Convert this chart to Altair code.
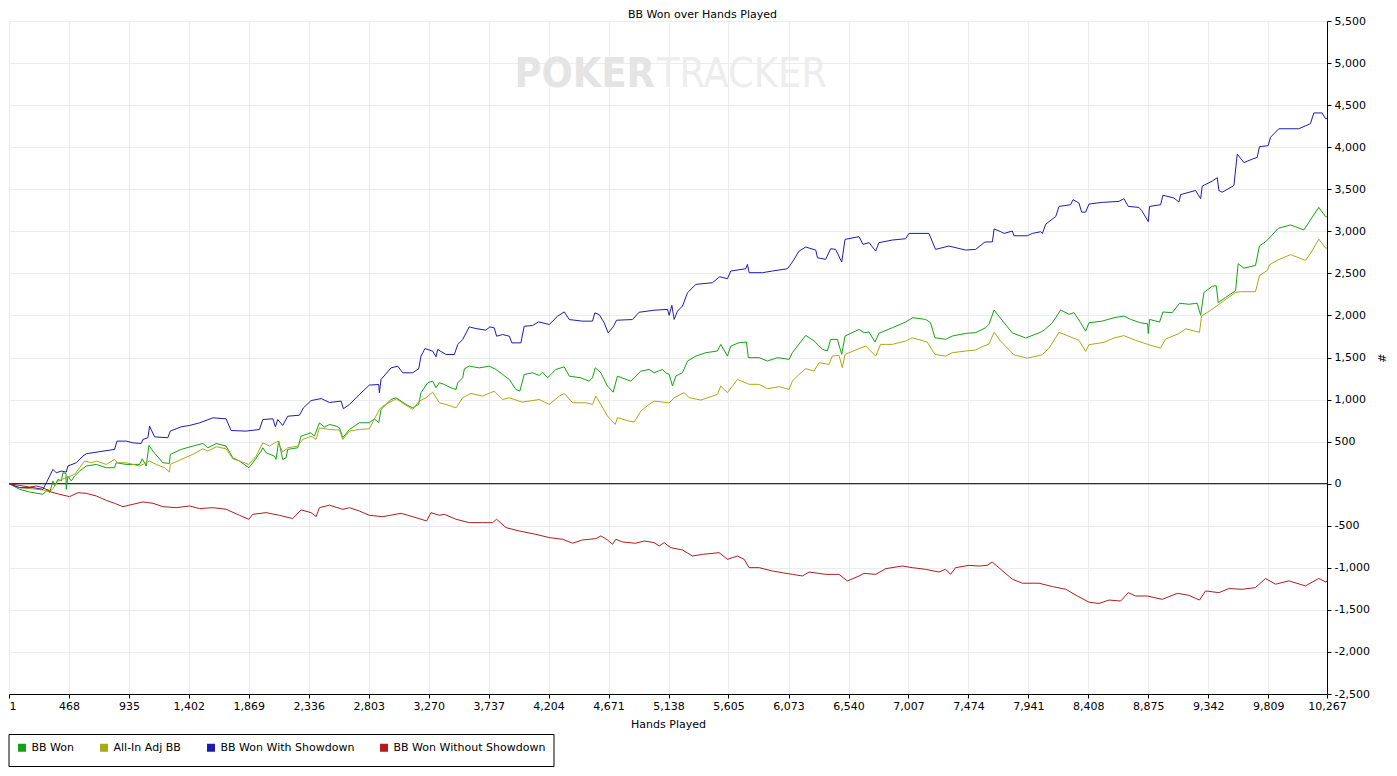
import altair as alt
import pandas as pd

SERIES = ["BB Won", "All-In Adj BB", "BB Won With Showdown", "BB Won Without Showdown"]
LINE_COLORS = ["#14a214", "#aaaa14", "#1c1cb0", "#b21c1c"]

X_TICKS = [1, 468, 935, 1402, 1869, 2336, 2803, 3270, 3737, 4204, 4671, 5138,
           5605, 6073, 6540, 7007, 7474, 7941, 8408, 8875, 9342, 9809, 10267]
Y_TICKS = [-2500, -2000, -1500, -1000, -500, 0, 500, 1000, 1500, 2000, 2500,
           3000, 3500, 4000, 4500, 5000, 5500]

TITLE = "BB Won over Hands Played"
X_TITLE = "Hands Played"
Y_TITLE = "#"

# BB Won
BBW_H = [1, 84, 162, 266, 305, 318, 343, 356, 382, 408, 421, 445, 447, 460, 486, 512, 551, 603, 681, 759,
         823, 836, 914, 1018, 1039, 1070, 1091, 1122, 1199, 1251, 1257, 1342, 1433, 1511, 1550, 1615, 1692,
         1744, 1796, 1869, 1900, 1965, 1978, 2004, 2068, 2081, 2102, 2133, 2159, 2172, 2250, 2276, 2315,
         2354, 2380, 2419, 2458, 2497, 2549, 2575, 2601, 2653, 2730, 2808, 2847, 2881, 2899, 2977, 3016,
         3094, 3145, 3192, 3210, 3262, 3301, 3327, 3353, 3392, 3444, 3483, 3496, 3535, 3548, 3586, 3664,
         3742, 3794, 3846, 3898, 3949, 3980, 4014, 4079, 4131, 4157, 4196, 4261, 4326, 4365, 4455, 4520,
         4546, 4567, 4611, 4663, 4707, 4740, 4844, 4870, 4922, 4987, 5026, 5091, 5117, 5143, 5169, 5195,
         5247, 5286, 5351, 5428, 5519, 5545, 5597, 5623, 5688, 5745, 5760, 5844, 5908, 5986, 6077, 6103,
         6142, 6207, 6272, 6337, 6375, 6401, 6453, 6487, 6513, 6622, 6661, 6700, 6746, 6777, 6881, 6985,
         7042, 7140, 7179, 7213, 7296, 7348, 7452, 7530, 7608, 7634, 7674, 7700, 7752, 7816, 7920, 8037,
         8063, 8128, 8193, 8257, 8296, 8348, 8387, 8413, 8517, 8608, 8685, 8737, 8815, 8870, 8875, 8885,
         8963, 8989, 9062, 9119, 9191, 9256, 9283, 9308, 9373, 9404, 9420, 9477, 9555, 9575, 9620, 9710,
         9741, 9788, 9827, 9887, 9983, 10087, 10138, 10203, 10255, 10267]
BBW_V = [0, -67, -99, -126, -67, -107, 32, -28, 51, 32, 130, 120, -67, 91, 32, 91, 150, 210, 229, 190,
         190, 249, 229, 229, 296, 210, 455, 387, 249, 241, 348, 407, 447, 478, 427, 478, 447,
         308, 269, 190, 249, 387, 427, 368, 328, 289, 506, 289, 308, 407, 427, 565, 585,
         605, 565, 723, 672, 704, 685, 665, 546, 645, 724, 724, 772, 724, 883, 1001, 1021,
         942, 902, 942, 1081, 1199, 1219, 1140, 1199, 1179, 1140, 1120, 1199, 1259, 1366, 1397, 1377,
         1397, 1358, 1298, 1239, 1120, 1100, 1298, 1318, 1286, 1326, 1259, 1358, 1389, 1278, 1259, 1219,
         1259, 1377, 1318, 1160, 1088, 1278, 1219, 1259, 1338, 1358, 1318, 1358, 1315, 1300, 1161, 1280,
         1319, 1458, 1517, 1557, 1577, 1656, 1517, 1636, 1676, 1684, 1498, 1498, 1458, 1498, 1478, 1557,
         1636, 1763, 1696, 1597, 1577, 1716, 1716, 1537, 1755, 1834, 1795, 1803, 1684, 1787, 1854, 1922,
         1973, 1953, 1914, 1735, 1716, 1755, 1787, 1795, 1854, 1893, 2065, 2013, 1913, 1792, 1732, 1800,
         1825, 1913, 2065, 2013, 2033, 1913, 1813, 1913, 1933, 1973, 1993, 1953, 1913, 1900, 1784, 1953,
         1921, 2041, 2033, 2145, 2133, 2145, 2001, 2274, 2346, 2354, 2153, 2214, 2294, 2615, 2562, 2594,
         2827, 2875, 2935, 3036, 3076, 3016, 3136, 3284, 3176, 3170]

# All-In Adj BB
AIA_H = [1, 84, 266, 318, 343, 382, 447, 512, 551, 590, 642, 681, 759, 823, 849, 914, 1018, 1070, 1096,
         1148, 1212, 1251, 1257, 1342, 1433, 1511, 1550, 1615, 1692, 1744, 1796, 1869, 1926, 1978, 2030,
         2094, 2133, 2172, 2250, 2289, 2354, 2393, 2419, 2497, 2575, 2601, 2653, 2730, 2808, 2886, 2912,
         3016, 3145, 3197, 3249, 3301, 3353, 3405, 3483, 3535, 3599, 3690, 3781, 3846, 3898, 3996, 4053,
         4131, 4209, 4287, 4326, 4391, 4494, 4546, 4572, 4611, 4663, 4723, 4740, 4831, 4870, 4922, 4987,
         5026, 5091, 5143, 5182, 5260, 5299, 5390, 5519, 5545, 5597, 5675, 5766, 5844, 5908, 6000, 6077,
         6103, 6155, 6207, 6272, 6310, 6388, 6414, 6466, 6492, 6513, 6622, 6674, 6752, 6790, 6881, 6985,
         7037, 7153, 7213, 7296, 7348, 7452, 7530, 7594, 7634, 7674, 7726, 7829, 7933, 8050, 8102, 8180,
         8270, 8335, 8387, 8413, 8530, 8608, 8685, 8776, 8880, 8971, 9010, 9114, 9166, 9274, 9290, 9373,
         9451, 9555, 9594, 9710, 9741, 9801, 9819, 9879, 9983, 10099, 10138, 10203, 10255, 10267]
AIA_V = [0, -47, -75, -99, -59, 32, 71, 111, 190, 269, 249, 269, 229, 289, 249, 249, 210, 249, 269,
         229, 190, 138, 229, 289, 348, 415, 387, 439, 415, 296, 269, 229, 328, 486, 447,
         506, 376, 427, 447, 526, 565, 526, 664, 644, 637, 526, 625, 645, 653, 883, 922,
         1009, 883, 982, 1021, 1088, 962, 942, 902, 1021, 1073, 1041, 1100, 1001, 1021, 970, 982,
         1001, 942, 1041, 1073, 962, 962, 942, 1041, 942, 804, 705, 784, 744, 732, 863, 942,
         982, 970, 960, 1022, 1082, 1022, 994, 1062, 1161, 1082, 1240, 1181, 1181, 1129, 1153, 1121,
         1220, 1300, 1367, 1339, 1438, 1418, 1517, 1525, 1379, 1537, 1605, 1636, 1517, 1656, 1656, 1696,
         1735, 1684, 1537, 1517, 1557, 1577, 1589, 1636, 1660, 1800, 1692, 1532, 1492, 1532, 1612, 1800,
         1744, 1704, 1572, 1652, 1680, 1732, 1760, 1704, 1652, 1612, 1720, 1784, 1841, 1800, 1993, 2073,
         2161, 2274, 2282, 2282, 2474, 2534, 2602, 2655, 2723, 2655, 2735, 2907, 2803, 2800]

# BB Won With Showdown
WSD_H = [1, 84, 188, 266, 292, 343, 369, 408, 447, 460, 525, 577, 603, 655, 733, 823, 842, 914, 966,
         1031, 1044, 1083, 1096, 1135, 1238, 1257, 1342, 1407, 1485, 1589, 1692, 1731, 1848, 1952, 1978,
         2056, 2076, 2094, 2133, 2172, 2263, 2294, 2354, 2432, 2497, 2588, 2606, 2653, 2730, 2808, 2881,
         2886, 2899, 2977, 3029, 3068, 3145, 3192, 3210, 3241, 3301, 3327, 3340, 3405, 3470, 3496, 3535,
         3586, 3638, 3716, 3747, 3781, 3799, 3846, 3898, 3918, 3988, 4014, 4079, 4126, 4209, 4274, 4326,
         4365, 4468, 4546, 4564, 4598, 4637, 4668, 4707, 4733, 4857, 4909, 5026, 5130, 5143, 5164, 5182,
         5208, 5247, 5286, 5351, 5480, 5537, 5597, 5623, 5740, 5753, 5766, 5870, 5947, 6064, 6103, 6155,
         6207, 6285, 6298, 6362, 6401, 6440, 6487, 6513, 6622, 6653, 6700, 6752, 6777, 6881, 6985, 7011,
         7166, 7218, 7322, 7452, 7530, 7602, 7661, 7674, 7726, 7752, 7816, 7829, 7933, 7972, 8037, 8050,
         8076, 8154, 8180, 8270, 8289, 8335, 8356, 8387, 8413, 8517, 8647, 8685, 8719, 8802, 8823, 8875,
         8885, 8971, 8989, 9075, 9114, 9127, 9243, 9283, 9295, 9373, 9412, 9425, 9451, 9542, 9568, 9620,
         9684, 9723, 9741, 9809, 9827, 9892, 10047, 10138, 10164, 10229, 10255, 10267]
WSD_V = [0, -47, -47, -67, 12, 170, 130, 150, 138, 210, 249, 328, 356, 368, 387, 407, 506, 506, 486,
         478, 526, 546, 684, 557, 546, 625, 676, 692, 723, 783, 771, 632, 625, 644, 763,
         771, 676, 763, 692, 802, 814, 901, 988, 1012, 965, 982, 891, 942, 1061, 1172, 1179,
         1081, 1239, 1377, 1397, 1318, 1318, 1366, 1516, 1607, 1575, 1508, 1595, 1536, 1536, 1654, 1714,
         1864, 1844, 1825, 1864, 1852, 1753, 1773, 1753, 1674, 1674, 1872, 1880, 1924, 1892, 1991, 2042,
         1951, 1932, 1932, 2030, 2011, 1912, 1793, 1864, 1943, 1951, 2038, 2062, 2072, 2001, 2120, 1953,
         2052, 2112, 2270, 2369, 2389, 2460, 2437, 2528, 2555, 2607, 2508, 2508, 2528, 2555, 2635, 2765,
         2813, 2777, 2686, 2666, 2793, 2785, 2635, 2904, 2936, 2845, 2865, 2765, 2865, 2896, 2912, 2975,
         2975, 2785, 2825, 2777, 2785, 2872, 2875, 3028, 2995, 2975, 3003, 2947, 2947, 2975, 2995, 2975,
         3084, 3176, 3296, 3316, 3376, 3336, 3228, 3228, 3324, 3344, 3356, 3388, 3296, 3284, 3248, 3116,
         3296, 3316, 3429, 3396, 3348, 3437, 3485, 3388, 3537, 3597, 3637, 3485, 3465, 3545, 3918, 3817,
         3858, 3878, 4006, 4018, 4118, 4219, 4219, 4279, 4407, 4407, 4339, 4340]

# BB Won Without Showdown
WOS_H = [1, 162, 214, 266, 330, 395, 473, 538, 603, 681, 759, 823, 888, 966, 1044, 1122, 1199, 1303,
         1407, 1485, 1589, 1692, 1796, 1869, 1900, 2004, 2108, 2211, 2276, 2354, 2393, 2419, 2497, 2601,
         2653, 2730, 2808, 2912, 3055, 3171, 3254, 3288, 3353, 3392, 3483, 3586, 3690, 3768, 3799, 3872,
         3975, 4105, 4209, 4313, 4391, 4468, 4572, 4611, 4663, 4702, 4728, 4779, 4883, 4948, 5026, 5065,
         5104, 5156, 5247, 5325, 5403, 5532, 5597, 5675, 5727, 5766, 5844, 5947, 6025, 6103, 6181, 6233,
         6362, 6466, 6531, 6622, 6661, 6752, 6830, 6959, 7037, 7140, 7244, 7296, 7335, 7374, 7478, 7556,
         7620, 7659, 7711, 7739, 7816, 7894, 8024, 8128, 8232, 8322, 8413, 8491, 8569, 8660, 8719, 8776,
         8867, 8984, 9101, 9191, 9274, 9321, 9425, 9503, 9607, 9710, 9788, 9866, 9970, 10099, 10203,
         10255, 10267]
WOS_V = [0, -40, -28, -47, -99, -126, -154, -107, -115, -146, -198, -233, -273, -245, -217, -233, -273, -285,
         -265, -296, -285, -304, -376, -423, -364, -344, -376, -415, -312, -344, -391, -285, -255, -305,
         -285, -325, -376, -392, -352, -404, -443, -344, -376, -364, -423, -463, -463, -463, -423, -522,
         -562, -602, -641, -661, -708, -669, -653, -621, -669, -720, -661, -693, -708, -681, -701, -741,
         -701, -761, -788, -860, -840, -820, -899, -860, -899, -998, -998, -1038, -1058, -1078, -1097, -1050,
         -1078, -1078, -1157, -1097, -1066, -1078, -1010, -979, -998, -1018, -1050, -1018, -1078, -998, -971, -979,
         -971, -931, -998, -1035, -1135, -1183, -1183, -1223, -1255, -1335, -1408, -1424, -1383, -1395, -1295, -1335,
         -1335, -1375, -1303, -1327, -1383, -1275, -1295, -1247, -1255, -1235, -1127, -1195, -1155, -1215, -1127,
         -1167, -1160]

rows = []
for name, hs, vs in [(SERIES[0], BBW_H, BBW_V), (SERIES[1], AIA_H, AIA_V),
                     (SERIES[2], WSD_H, WSD_V), (SERIES[3], WOS_H, WOS_V)]:
    for h, v in zip(hs, vs):
        rows.append({"series": name, "hands": h, "bb": v})
df = pd.DataFrame(rows)

FONT = "DejaVu Sans"

x_scale = alt.Scale(domain=[1, 10267], nice=False, zero=False)
y_scale = alt.Scale(domain=[-2500, 5500], nice=False, zero=False)

x_axis = alt.Axis(values=X_TICKS, format=",d", title=X_TITLE, grid=True, gridColor="#ececec",
                  domainColor="black", tickColor="black", tickSize=4, labelPadding=2,
                  labelFlush=False, labelOverlap=False, labelFont=FONT, labelFontSize=11,
                  labelColor="black", titleFont=FONT, titleFontSize=11, titleFontWeight="normal",
                  titleColor="black", titlePadding=7,
                  labelAlign={"condition": {"test": "datum.value <= 1", "value": "left"},
                              "value": "center"})
y_axis = alt.Axis(orient="right", values=Y_TICKS, title=Y_TITLE, grid=True, gridColor="#ececec",
                  labelExpr="datum.value < 0 ? '-' + format(-datum.value, ',') : format(datum.value, ',')",
                  domainColor="black", tickColor="black", tickSize=4, labelPadding=3,
                  labelOverlap=False, labelFont=FONT, labelFontSize=11, labelColor="black",
                  titleFont=FONT, titleFontSize=11, titleFontWeight="normal", titleColor="black",
                  titleAngle=90, titlePadding=6)

legend = alt.Legend(title=None, orient="none", legendX=-0.5, legendY=713,
                    direction="horizontal", symbolType="square", symbolSize=16,
                    symbolStrokeWidth=4, labelFont=FONT, labelFontSize=11, labelColor="black",
                    labelOffset=4, columnPadding=19, padding=8, strokeColor="black",
                    fillColor="white")

lines = alt.Chart(df).mark_line(strokeWidth=1).encode(
    x=alt.X("hands:Q", scale=x_scale, axis=x_axis),
    y=alt.Y("bb:Q", scale=y_scale, axis=y_axis),
    color=alt.Color("series:N", scale=alt.Scale(domain=SERIES, range=LINE_COLORS), legend=legend),
)

zero_rule = alt.Chart(pd.DataFrame({"y": [0]})).mark_rule(color="black", strokeWidth=1).encode(
    y=alt.Y("y:Q", scale=y_scale)
)

WM_FONT = "Liberation Sans Narrow, DejaVu Sans Condensed, Liberation Sans"
wm_poker = alt.Chart(pd.DataFrame({"t": ["POKER"]})).mark_text(
    font=WM_FONT, fontSize=41, fontWeight="bold", color="#e4e4e4", align="right", baseline="alphabetic"
).encode(text="t:N", x=alt.value(646), y=alt.value(66))

wm_tracker = alt.Chart(pd.DataFrame({"t": ["TRACKER"]})).mark_text(
    font=WM_FONT, fontSize=41, fontWeight="normal", color="#ededed", align="left", baseline="alphabetic"
).encode(text="t:N", x=alt.value(648), y=alt.value(66))

title_text = alt.Chart(pd.DataFrame({"t": [TITLE]})).mark_text(
    font=FONT, fontSize=11, color="black", align="center", baseline="alphabetic"
).encode(text="t:N", x=alt.value(693.5), y=alt.value(-3.5))

chart = alt.layer(wm_poker, wm_tracker, zero_rule, lines, title_text).properties(
    width=1318, height=673,
    padding={"left": 1, "top": 13, "right": 62, "bottom": 74},
    autosize=alt.AutoSizeParams(type="none"),
).configure_view(stroke="black", strokeWidth=1).configure(background="white")

chart.save("out.html", embed_options={"renderer": "svg", "actions": False})
